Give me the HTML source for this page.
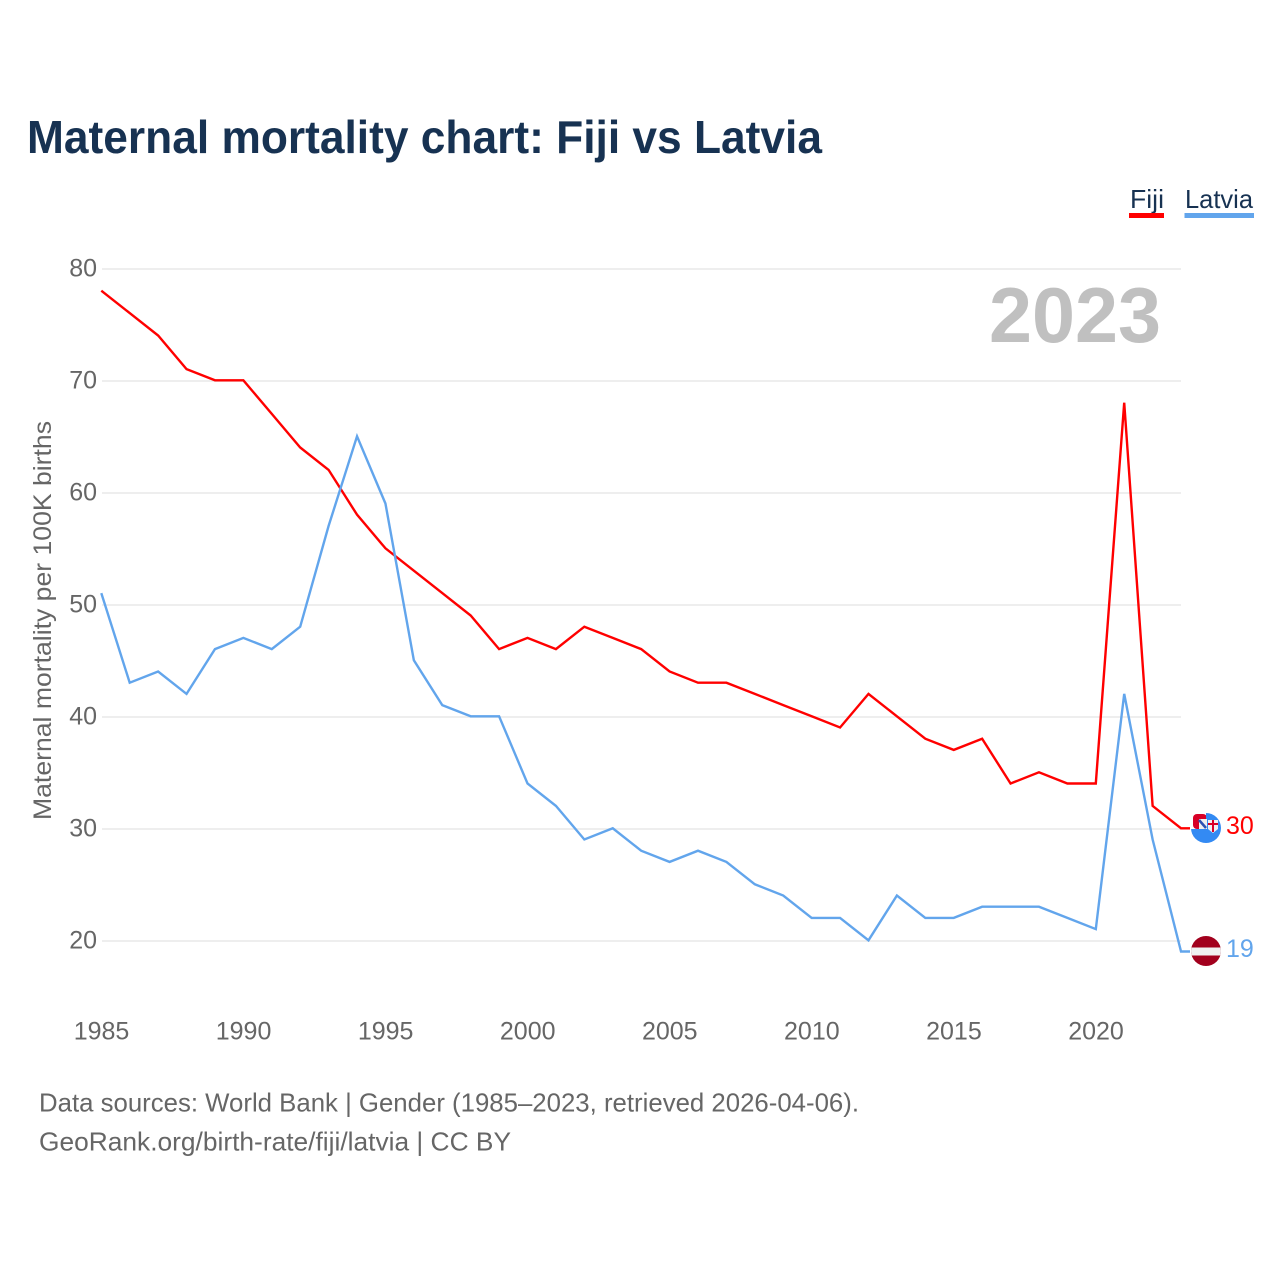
<!DOCTYPE html>
<html lang="en">
<head>
<meta charset="utf-8">
<title>Maternal mortality chart: Fiji vs Latvia</title>
<style>
html,body{margin:0;padding:0;background:#fff;}
svg{display:block;font-family:"Liberation Sans",sans-serif;}
</style>
</head>
<body>
<svg id="chart" xmlns="http://www.w3.org/2000/svg" width="1280" height="1280" viewBox="0 0 1280 1280">
  <rect x="0" y="0" width="1280" height="1280" fill="#ffffff"/>
  <text x="27" y="153" font-size="46" font-weight="700" fill="#173252" textLength="795" lengthAdjust="spacingAndGlyphs">Maternal mortality chart: Fiji vs Latvia</text>

  <g>
    <text x="1130" y="208" font-size="26" fill="#173252" textLength="34" lengthAdjust="spacingAndGlyphs">Fiji</text>
    <rect x="1129" y="213" width="35" height="5" fill="#ff0000"/>
  </g>
  <g>
    <text x="1185" y="208" font-size="26" fill="#173252" textLength="68" lengthAdjust="spacingAndGlyphs">Latvia</text>
    <rect x="1184.5" y="213" width="69.5" height="5" fill="#62a5ec"/>
  </g>

  <text transform="translate(51,820) rotate(-90)" font-size="25" fill="#666666" textLength="399" lengthAdjust="spacingAndGlyphs">Maternal mortality per 100K births</text>
  <text x="989" y="342" font-size="78" font-weight="700" fill="#c0c0c0" textLength="172" lengthAdjust="spacingAndGlyphs">2023</text>

  <g id="grid"></g>
  <g id="yticks"></g>
  <g id="xticks"></g>
  <g id="series"></g>

  <defs>
    <clipPath id="fiji-clip"><circle cx="1206" cy="828" r="15"/></clipPath>
    <clipPath id="latvia-clip"><circle cx="1206" cy="951" r="15"/></clipPath>
  </defs>

  <g id="flag-fiji">
    <rect x="1193" y="814" width="14" height="15" rx="4" fill="#d80027"/>
    <g clip-path="url(#fiji-clip)">
      <path d="M1191 829 H1206 V813 H1222 V844 H1190 Z" fill="#338af3"/>
      <rect x="1199" y="819" width="8" height="10" fill="#f0f0f0"/>
      <path d="M1199 820 L1206 828" stroke="#2e52b2" stroke-width="2.5" fill="none"/>
      <path d="M1208 820 H1218 V829 L1213 833 L1208 829 Z" fill="#f0f0f0"/>
      <rect x="1212" y="820" width="2" height="12" fill="#d80027"/>
      <rect x="1208" y="823" width="10" height="2" fill="#d80027"/>
    </g>
  </g>
  <g id="flag-latvia">
    <g clip-path="url(#latvia-clip)">
      <rect x="1190" y="935" width="32" height="32" fill="#a2001d"/>
      <rect x="1190" y="947.5" width="32" height="8" fill="#f0f0f0"/>
    </g>
  </g>

  <text x="39" y="1111.5" font-size="26" fill="#666666" textLength="820" lengthAdjust="spacingAndGlyphs">Data sources: World Bank | Gender (1985–2023, retrieved 2026-04-06).</text>
  <text x="39" y="1150.5" font-size="26" fill="#666666" textLength="472" lengthAdjust="spacingAndGlyphs">GeoRank.org/birth-rate/fiji/latvia | CC BY</text>
</svg>

<script>
const years = [1985,1986,1987,1988,1989,1990,1991,1992,1993,1994,1995,1996,1997,1998,1999,2000,2001,2002,2003,2004,2005,2006,2007,2008,2009,2010,2011,2012,2013,2014,2015,2016,2017,2018,2019,2020,2021,2022,2023];
const fijiValues = [78,76,74,71,70,70,67,64,62,58,55,53,51,49,46,47,46,48,47,46,44,43,43,42,41,40,39,42,40,38,37,38,34,35,34,34,68,32,30];
const latviaValues = [51,43,44,42,46,47,46,48,57,65,59,45,41,40,40,34,32,29,30,28,27,28,27,25,24,22,22,20,24,22,22,23,23,23,22,21,42,29,19];
const yTickValues = [20,30,40,50,60,70,80];
const xTickValues = [1985,1990,1995,2000,2005,2010,2015,2020];

const SVG_NS = 'http://www.w3.org/2000/svg';
function xScale(year){ return 102 + (year - 1985) * (1096.5 - 102) / 35; }
function yScale(value){ return 941 - (value - 20) * (941 - 269) / 60; }
function make(tag){ return document.createElementNS(SVG_NS, tag); }

const gridGroup = document.getElementById('grid');
const yTickGroup = document.getElementById('yticks');
const xTickGroup = document.getElementById('xticks');
const seriesGroup = document.getElementById('series');

yTickValues.forEach(function(v){
  const line = make('line');
  
  
  line.setAttribute('x1', 102);
  line.setAttribute('x2', 1181);
  line.setAttribute('y1', yScale(v));
  line.setAttribute('y2', yScale(v));
  line.setAttribute('stroke', '#eeeeee');
  line.setAttribute('stroke-width', 2);
  gridGroup.appendChild(line);

  const label = make('text');
  
  
  label.setAttribute('x', 97);
  label.setAttribute('y', yScale(v) + 7.5);
  label.setAttribute('text-anchor', 'end');
  label.setAttribute('font-size', 25);
  label.setAttribute('fill', '#666666');
  label.textContent = v;
  yTickGroup.appendChild(label);
});

xTickValues.forEach(function(y){
  const label = make('text');
  
  
  label.setAttribute('x', xScale(y) - 0.5);
  label.setAttribute('y', 1039.5);
  label.setAttribute('text-anchor', 'middle');
  label.setAttribute('font-size', 25);
  label.setAttribute('fill', '#666666');
  label.textContent = y;
  xTickGroup.appendChild(label);
});

function pathFor(values){
  const pts = values.map(function(v, i){ return (xScale(years[i]) - 0.7).toFixed(2) + ',' + (yScale(v) - 0.7).toFixed(2); });
  const last = values[values.length - 1];
  pts.push('1190,' + (yScale(last) - 0.7).toFixed(2));
  return 'M' + pts.join(' L');
}

const fijiLine = make('path');


fijiLine.setAttribute('d', pathFor(fijiValues));
fijiLine.setAttribute('fill', 'none');
fijiLine.setAttribute('stroke', '#ff0000');
fijiLine.setAttribute('stroke-width', 2.4);
seriesGroup.appendChild(fijiLine);

const latviaLine = make('path');


latviaLine.setAttribute('d', pathFor(latviaValues));
latviaLine.setAttribute('fill', 'none');
latviaLine.setAttribute('stroke', '#62a5ec');
latviaLine.setAttribute('stroke-width', 2.4);
seriesGroup.appendChild(latviaLine);

const fijiLast = fijiValues[fijiValues.length - 1];
const latviaLast = latviaValues[latviaValues.length - 1];

const fijiEnd = make('text');


fijiEnd.setAttribute('x', 1226);
fijiEnd.setAttribute('y', yScale(fijiLast) + 5);
fijiEnd.setAttribute('font-size', 25);
fijiEnd.setAttribute('fill', '#ff0000');
fijiEnd.textContent = fijiLast;
seriesGroup.appendChild(fijiEnd);

const latviaEnd = make('text');


latviaEnd.setAttribute('x', 1226);
latviaEnd.setAttribute('y', yScale(latviaLast) + 5);
latviaEnd.setAttribute('font-size', 25);
latviaEnd.setAttribute('fill', '#62a5ec');
latviaEnd.textContent = latviaLast;
seriesGroup.appendChild(latviaEnd);

document.getElementById('flag-fiji').setAttribute('transform', 'translate(0,' + (yScale(fijiLast) - 829) + ')');
document.getElementById('flag-latvia').setAttribute('transform', 'translate(0,' + (yScale(latviaLast) - 952.2) + ')');
</script>
</body>
</html>
